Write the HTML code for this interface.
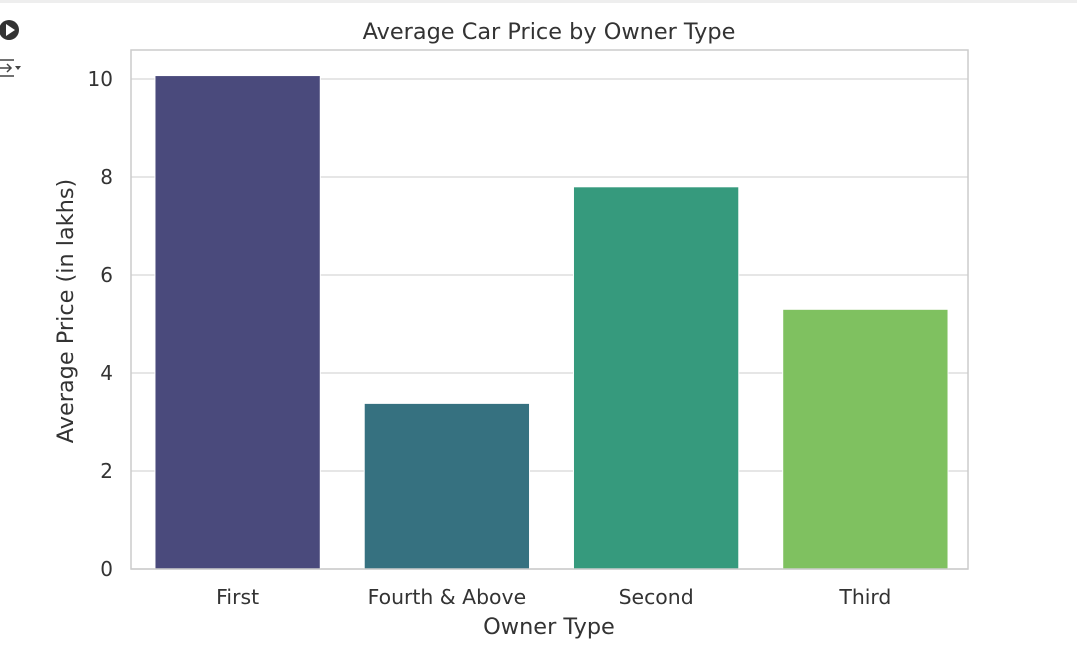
<!DOCTYPE html>
<html><head><meta charset="utf-8"><style>
body{margin:0;background:#fff;width:1077px;height:652px;overflow:hidden;font-family:"DejaVu Sans","Liberation Sans",sans-serif}
svg text{font-family:"DejaVu Sans","Liberation Sans",sans-serif;fill:#333}
</style></head><body>
<svg width="1077" height="652">
<rect x="0" y="0" width="1077" height="3" fill="#eee"/>
<circle cx="9" cy="30" r="10" fill="#333"/>
<polygon points="6,24 6,36 15,30" fill="#fff"/>
<g stroke="#444" stroke-width="1.5" fill="none"><path d="M0,60 H14 M0,76 H14 M0,68 H10 M7,64 L11,68 L7,72"/><polygon points="15,66 21,66 18,70" fill="#444" stroke="none"/></g>
<text x="549" y="39" text-anchor="middle" font-size="22.4">Average Car Price by Owner Type</text>
<g id="grid"></g><g id="bars"></g><g id="ticks"></g>
<rect x="131" y="50" width="837" height="519" fill="none" stroke="#ccc" stroke-width="1.5"/>
<text x="549" y="634" text-anchor="middle" font-size="22.4">Owner Type</text>
<text transform="translate(73,311) rotate(-90)" text-anchor="middle" font-size="22.4">Average Price (in lakhs)</text>
</svg>
<script>
const categories=["First","Fourth & Above","Second","Third"];
const values=[10.07,3.38,7.8,5.3];
const yTicks=[0,2,4,6,8,10];
const barColors=["#4a4a7c","#367180","#369a7d","#7fc160"];
const L=131,R=968,B=569,PU=49;
const y=v=>B-v*PU;
const band=(R-L)/categories.length;
const xc=i=>L+2+band*(i+0.5);
const ns="http://www.w3.org/2000/svg";
const mk=(t,a,p)=>{const e=document.createElementNS(ns,t);for(const k in a)e.setAttribute(k,a[k]);document.getElementById(p).appendChild(e);return e;};
yTicks.forEach(t=>{
 const l=mk('line',{x1:L,x2:R,y1:y(t),y2:y(t),stroke:'#ddd','stroke-width':1.5},'grid');
 
 
 const tx=mk('text',{x:L-18,y:y(t)+7,'text-anchor':'end','font-size':20},'ticks');
 tx.textContent=t;
 
 
});
categories.forEach((c,i)=>{
 const w=band*0.79;
 const r=mk('rect',{x:xc(i)-w/2,y:y(values[i]),width:w,height:values[i]*PU,fill:barColors[i],stroke:'#fff','stroke-width':1},'bars');
 
 
 const tx=mk('text',{x:xc(i),y:604,'text-anchor':'middle','font-size':20.4},'ticks');
 tx.textContent=c;
 
 
});
</script>
</body></html>
